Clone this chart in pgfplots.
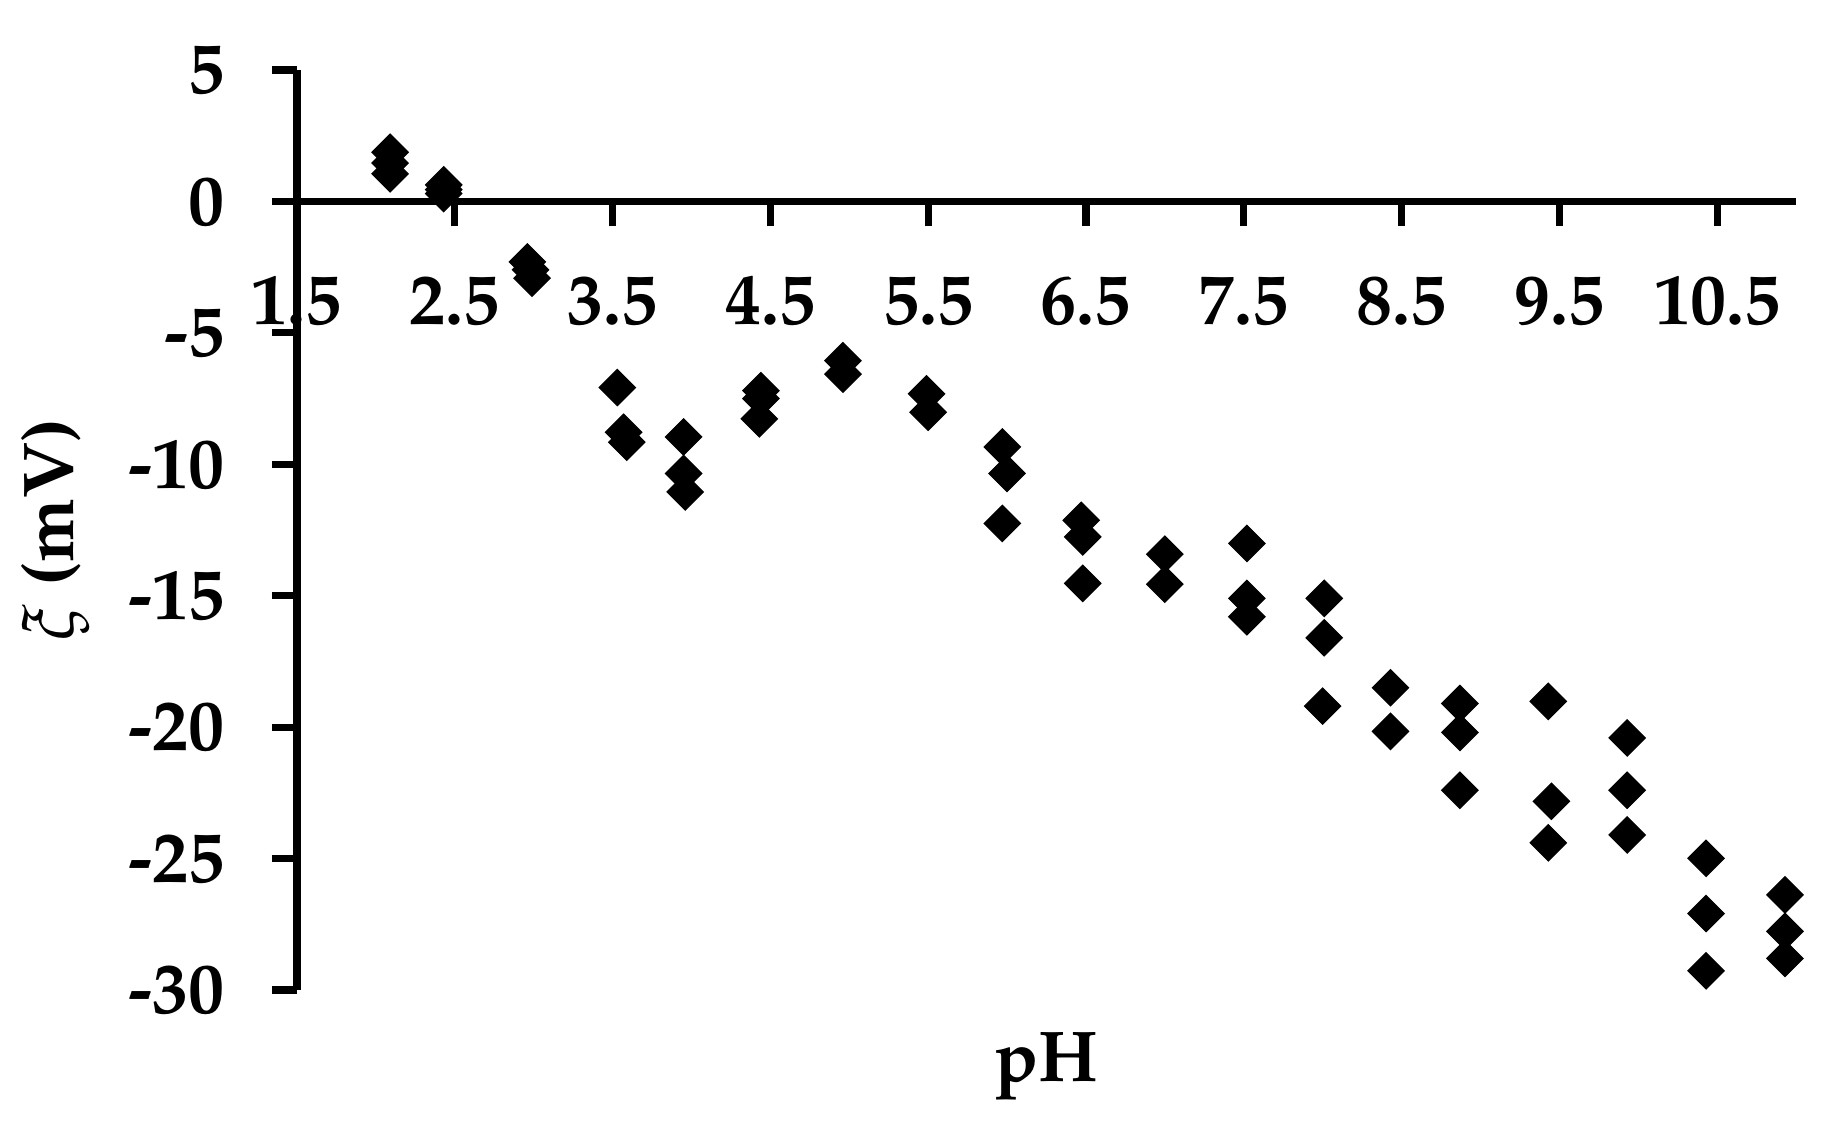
\documentclass[border=0pt]{standalone}
\usepackage[T1]{fontenc}
\usepackage{mathpazo}
\usepackage{pgfplots}
\pgfplotsset{compat=1.18}
\begin{document}
\begin{tikzpicture}
\path[use as bounding box] (-74.25pt,-36.75pt) rectangle (386.5pt,247.5pt);
\begin{axis}[
  at={(0,0)}, anchor=south west,
  width=374.75pt, height=230pt, scale only axis,
  xmin=1.5, xmax=11, ymin=-30, ymax=5,
  clip=false,
  axis y line*=left, axis x line*=middle,
  hide obscured x ticks=false,
  axis line style={line width=1.8pt, black},
  xtick={1.5,2.5,3.5,4.5,5.5,6.5,7.5,8.5,9.5,10.5},
  xticklabels={1.5,2.5,3.5,4.5,5.5,6.5,7.5,8.5,9.5,10.5},
  ytick={-30,-25,-20,-15,-10,-5,0,5},
  yticklabels={-30,-25,-20,-15,-10,-5,0,5},
  tick align=outside, major tick length=6.25pt,
  tick style={line width=1.8pt, black},
  tick label style={font=\fontsize{18}{20}\selectfont\bfseries},
  xticklabel style={anchor=north, yshift=-9pt},
  yticklabel style={anchor=east, xshift=-8.25pt},
  xlabel={pH}, ylabel={$\xi$ (mV)},
  every axis x label/.style={at={(axis description cs:0.5,-0.0997)}, anchor=base,
    font=\fontsize{18}{20}\selectfont\bfseries},
  every axis y label/.style={at={(axis description cs:-0.1608,0.5)}, rotate=90, anchor=center,
    font=\fontsize{18}{20}\selectfont\bfseries},
]
\addplot[only marks, mark=square*, mark size=3.2pt,
  mark options={rotate=45, fill=black, draw=black, line width=0.3pt}]
coordinates {
(2.09,1.87)(2.09,1.46)(2.09,1.05)
(2.43,0.63)(2.43,0.45)(2.43,0.3)
(2.96,-2.30)(2.98,-2.6)(2.99,-2.92)
(3.53,-7.08)(3.57,-8.78)(3.59,-9.16)
(3.95,-8.96)(3.95,-10.35)(3.96,-11.05)
(4.44,-7.2)(4.44,-7.5)(4.43,-8.27)
(4.96,-6.06)(4.96,-6.57)
(5.49,-7.32)(5.50,-8.02)
(5.97,-9.34)(6.00,-10.35)(5.97,-12.25)
(6.47,-12.13)(6.48,-12.76)(6.48,-14.53)
(7.00,-13.42)(7.00,-14.56)
(7.52,-13.01)(7.52,-15.1)(7.52,-15.8)
(8.01,-15.1)(8.01,-16.6)(8.00,-19.2)
(8.43,-18.5)(8.43,-20.16)
(8.87,-19.1)(8.87,-20.2)(8.87,-22.4)
(9.43,-19.02)(9.45,-22.82)(9.43,-24.4)
(9.93,-20.41)(9.93,-22.4)(9.93,-24.1)
(10.43,-24.99)(10.43,-27.09)(10.43,-29.27)
(10.93,-26.38)(10.93,-27.77)(10.93,-28.8)
};
\end{axis}
\end{tikzpicture}
\end{document}
